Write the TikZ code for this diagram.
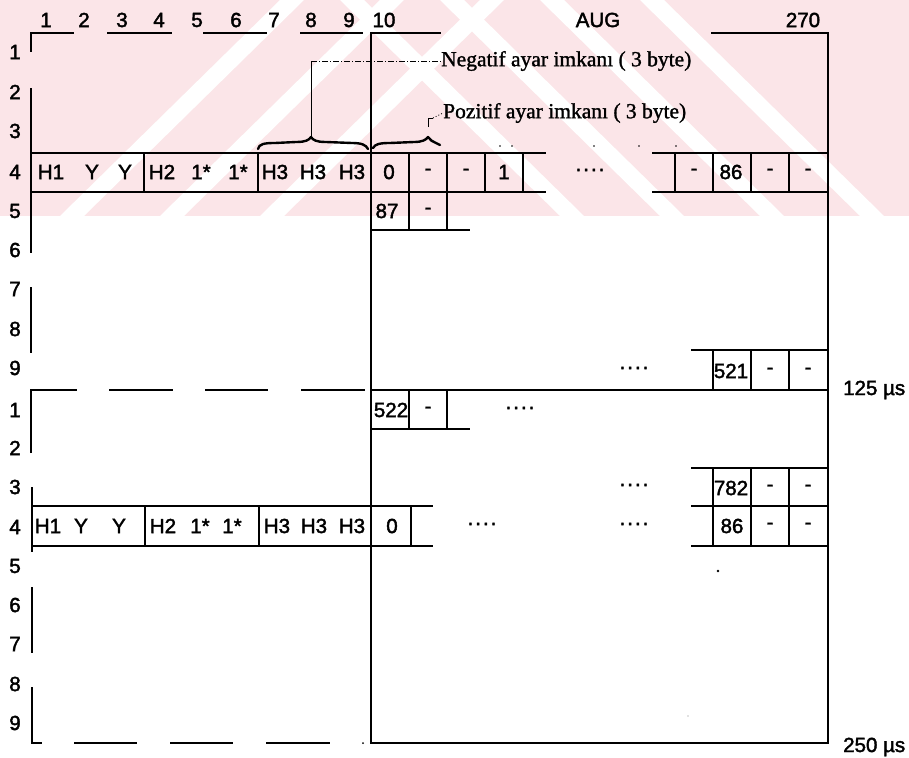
\documentclass[tikz,border=0pt]{standalone}
\usepackage{fontspec}
\setmainfont[FakeBold=2]{Liberation Sans}
\newfontfamily\annotfont[FakeBold=1.3]{Liberation Serif}
\definecolor{wmpink}{RGB}{251,229,232}
\begin{document}
\begin{tikzpicture}[x=1bp,y=-1bp,
  lbl/.style={inner sep=0pt, font=\fontsize{20.5bp}{22bp}\selectfont},
  note/.style={inner sep=0pt, anchor=west, font=\annotfont\fontsize{21.5bp}{23bp}\selectfont},
  frame/.style={line width=2bp, line cap=rect},
  cell/.style={line width=1.5bp},
  leader/.style={line width=0.7bp, dash pattern=on 6bp off 2bp on 1bp off 2bp},
  brace/.style={line width=2.4bp, line cap=round, line join=round},
  speck/.style={fill=black, draw=none}
]
\useasboundingbox (0,0) rectangle (909,758);

% faint background tint with diagonal bands
\begin{scope}
  \clip (0,0) rectangle (909,216);
  \fill[wmpink] (0,0) rectangle (909,216);
  \foreach \b in {60,160,260}
    \fill[white] (\b,216) -- (\b+24,216) -- (\b+244,0) -- (\b+220,0) -- cycle;
  \foreach \b in {560,660,760,860}
    \fill[white] (\b,216) -- (\b+24,216) -- (\b-196,0) -- (\b-220,0) -- cycle;
\end{scope}

% column numbers
\foreach \x/\t [count=\i] in {46/1,84/2,122/3,159/4,197/5,236/6,274/7,311/8,349/9,384/10}
  \node[lbl] (col\i) at (\x,20) {\t};
\node[lbl] (aug) at (598,20) {AUG};
\node[lbl] (c270) at (803,20) {270};

% row numbers
\foreach \y/\t [count=\i] in {52/1,92/2,131/3,172/4,211/5,250/6,289/7,329/8,368/9,
                               410/1,448/2,487/3,527/4,566/5,605/6,644/7,684/8,723/9}
  \node[lbl] (row\i) at (15,\y) {\t};

% left part of the frame (interrupted)
\draw[cell] (31,52) -- (31,33) -- (74,33);
\draw[cell] (107,33) -- (172,33);
\draw[cell] (203,33) -- (267,33);
\draw[cell] (300,33) -- (363,33);
\draw[cell] (31,88) -- (31,153);
\draw[cell] (31,192) -- (31,253);
\draw[cell] (31,287) -- (31,353);
\draw[cell] (31,453) -- (31,390) -- (77,390);
\draw[cell] (109,390) -- (173,390);
\draw[cell] (205,390) -- (268,390);
\draw[cell] (301,390) -- (365,390);
\draw[cell] (32,487) -- (32,506);
\draw[cell] (32,546) -- (32,552);
\draw[cell] (32,587) -- (32,653);
\draw[cell] (32,687) -- (32,743) -- (42,743);
\draw[cell] (74,743) -- (137,743);
\draw[cell] (170,743) -- (233,743);
\draw[cell] (266,743) -- (330,743);
\fill (363,743) circle (1bp);

% payload frame
\draw[frame] (440,33) -- (371,33) -- (371,743) -- (828,743) -- (828,33) -- (712,33);
\draw[cell] (371,390) -- (828,390);

% first frame, row 4
\draw[cell] (31,153) -- (546,153);
\draw[cell] (652,153) -- (828,153);
\draw[cell] (31,192) -- (546,192);
\draw[cell] (652,192) -- (828,192);
\foreach \x in {31,144,258,409,447,485,523,675,713,751,789}
  \draw[cell] (\x,153) -- (\x,192);
\foreach \x/\t [count=\i] in {51/H1,92/Y,125/Y,162/H2,201/1*,238/1*,275/H3,313/H3,352/H3,389/0,428/-,466/-,504/1,694/-,731/86,770/-,808/-}
  \node[lbl] (a\i) at (\x,172) {\t};
\node[lbl] (adots) at (590,170) {.\kern2bp.\kern2bp.\kern2bp.};

% first frame, row 5
\draw[cell] (409,192) -- (409,230);
\draw[cell] (447,192) -- (447,230);
\draw[cell] (371,230) -- (470,230);
\node[lbl] (b1) at (387,211) {87};
\node[lbl] (b2) at (428,211) {-};

% first frame, row 9
\draw[cell] (691,350) -- (828,350);
\foreach \x in {713,751,789}
  \draw[cell] (\x,350) -- (\x,390);
\node[lbl] (c1) at (731,371) {521};
\node[lbl] (c2) at (770,371) {-};
\node[lbl] (c3) at (808,371) {-};
\node[lbl] (cdots) at (634,368) {.\kern2bp.\kern2bp.\kern2bp.};

% second frame, row 1
\draw[cell] (409,390) -- (409,429);
\draw[cell] (447,390) -- (447,429);
\draw[cell] (371,429) -- (470,429);
\node[lbl] (d1) at (391,410) {522};
\node[lbl] (d2) at (428,410) {-};
\node[lbl] (ddots) at (520,408) {.\kern2bp.\kern2bp.\kern2bp.};

% second frame, row 3
\draw[cell] (691,468) -- (828,468);
\foreach \x in {713,751,789}
  \draw[cell] (\x,468) -- (\x,506);
\node[lbl] (e1) at (731,488) {782};
\node[lbl] (e2) at (770,488) {-};
\node[lbl] (e3) at (808,488) {-};
\node[lbl] (edots) at (634,485) {.\kern2bp.\kern2bp.\kern2bp.};

% second frame, row 4
\draw[cell] (32,506) -- (433,506);
\draw[cell] (32,546) -- (433,546);
\draw[cell] (691,506) -- (828,506);
\draw[cell] (691,546) -- (828,546);
\foreach \x in {32,145,259,411,713,751,789}
  \draw[cell] (\x,506) -- (\x,546);
\foreach \x/\t [count=\i] in {48/H1,81/Y,119/Y,163/H2,200/1*,232/1*,277/H3,314/H3,352/H3,392/0,732/86,770/-,808/-}
  \node[lbl] (f\i) at (\x,526) {\t};
\node[lbl] (fdots1) at (482,524) {.\kern2bp.\kern2bp.\kern2bp.};
\node[lbl] (fdots2) at (634,524) {.\kern2bp.\kern2bp.\kern2bp.};

% stray specks
\foreach \x in {500,512,594,639,676}
  \fill[speck] (\x,146) circle (0.9bp);
\fill[speck] (718,571) circle (1.3bp);
\fill[speck, fill=gray] (688,716) circle (0.7bp);

% time marks
\node[lbl, anchor=west] (t125) at (843,390) {125 µs};
\node[lbl, anchor=west] (t250) at (843,747) {250 µs};

% adjustment annotations
\node[note] (neg) at (441,61) {Negatif ayar imkanı ( 3 byte)};
\node[note] (pos) at (443,113) {Pozitif ayar imkanı ( 3 byte)};

\draw[brace] (258,149) .. controls (259,144) and (264,143) .. (275,143)
  -- (296,142) .. controls (306,142) and (309,140) .. (311,137)
  .. controls (313,140) and (316,142) .. (326,142)
  -- (352,143) .. controls (362,143) and (366,145) .. (368,149);
\coordinate (negtip) at (311,137);
\draw[line width=0.9bp] (negtip) -- (311,61);
\draw[leader] (311,61) -- (neg.west);

\draw[brace] (373,148) .. controls (375,144) and (380,143) .. (390,143)
  -- (414,142) .. controls (422,142) and (426,140) .. (428,137)
  .. controls (430,140) and (433,142) .. (436,143) -- (440,145);
\draw[line width=0.9bp] (428,127) -- (428,118) -- (433,118);
\draw[line width=0.7bp, dash pattern=on 1bp off 2bp] (433,118) -- (pos.west);
\end{tikzpicture}
\end{document}
